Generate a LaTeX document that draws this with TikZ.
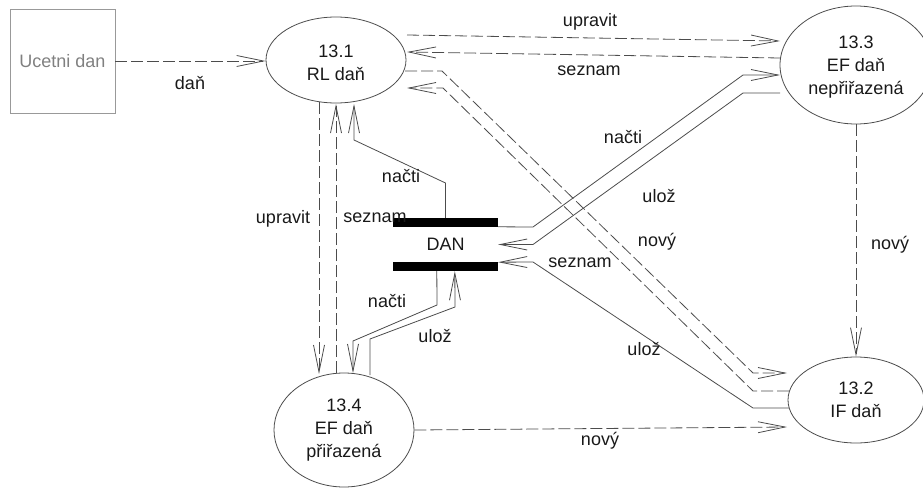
\documentclass[tikz,border=0pt]{standalone}
\usepackage{fontspec}
\setmainfont{Liberation Sans}
\usetikzlibrary{arrows.meta,calc,shapes.geometric}

\begin{document}
\begin{tikzpicture}[x=1pt,y=-1pt,
  every node/.style={font=\fontsize{18}{23}\selectfont, text=black!90},
  proc/.style={draw=black!70, line width=0.8pt, ellipse, inner sep=0pt},
  ptext/.style={align=center, inner sep=0pt},
  flow/.style={draw=black!70, line width=0.8pt, -{Straight Barb[length=27pt,width=11pt]}},
  dflow/.style={flow, dash pattern=on 12pt off 4pt},
  lbl/.style={anchor=base, inner sep=0pt},
]
\useasboundingbox (0,0) rectangle (923,487);

% external entity
\node[draw=black!40, line width=0.8pt, minimum width=105pt, minimum height=104pt,
      inner sep=0pt, text=black!50] (src) at (62.5,61) {Ucetni dan};

% processes (outline) and their captions
\node[proc, minimum width=140pt, minimum height=86pt]  (p131) at (336,60)  {};
\node[proc, minimum width=152pt, minimum height=118pt] (p133) at (856,65)  {};
\node[proc, minimum width=136pt, minimum height=86pt]  (p132) at (856,400) {};
\node[proc, minimum width=140pt, minimum height=114pt] (p134) at (344,430) {};

\node[ptext] (t131) at ($(p131)+(0,3)$) {13.1\\RL daň};
\node[ptext] (t133) at ($(p133)+(0,2)$) {13.3\\EF daň\\nepřiřazená};
\node[ptext] (t132) at ($(p132)+(0,0)$) {13.2\\IF daň};
\node[ptext] (t134) at ($(p134)+(0,0)$) {13.4\\EF daň\\přiřazená};

% data store
\node[minimum width=105pt, minimum height=53pt, inner sep=0pt] (dan) at (445.5,244.5) {DAN};
\fill[black] (dan.north west) rectangle ($(dan.north east)+(0,9)$);
\fill[black] (dan.south west) rectangle ($(dan.south east)+(0,-9)$);

% flows
\draw[dflow] (src.east) -- (src.east -| p131.west);
\draw[dflow] ($(p131)+(71,-25)$) -- ($(p133)+(-76,-24)$);
\draw[dflow] ($(p133)+(-76,-7)$) -- ($(p131)+(71,-8)$);
\draw[dflow] ($(p131)+(69,11)$) -- (442,71) -- (753,373) -- ($(p132)+(-69,-27)$);
\draw[dflow] ($(p132)+(-67,-9)$) -- (753,391) -- (443,88) -- ($(p131)+(71,28)$);

\draw[flow] ($(dan.north east)+(0,9)$) -- (533,227) -- (743,75) -- ($(p133)+(-76,10)$);
\draw[flow] ($(p133)+(-76,28)$) -- (743,93) -- (533,244.5) -- (dan.east);
\draw[flow] ($(p132)+(-67,8)$) -- (753,408) -- (533,262) -- ($(dan.south east)+(0,-9)$);

\draw[dflow] ($(p131)+(-17,42)$) -- ($(p134)+(-25,-56)$);
\draw[dflow] ($(p134)+(-8,-57)$) -- ($(p131)+(0,44)$);

\draw[flow] (dan.north) -- (445.5,183) -- (354,140) -- ($(p131)+(18,44)$);
\draw[flow] ($(dan.south west)+(44,0)$) -- (437,305) -- (353,341) -- ($(p134)+(9,-57)$);
\draw[flow] ($(p134)+(26,-55)$) -- (370,339) -- (455,307) -- ($(dan.south west)+(62,0)$);

\draw[dflow] (p133.south) -- (p132.north);
\draw[dflow] (p134.east) -- ($(p132)+(-69,27)$);

% flow labels
\node[lbl] (l1)  at (190,89)  {daň};
\node[lbl] (l2)  at (590,27)  {upravit};
\node[lbl] (l3)  at (589,75)  {seznam};
\node[lbl] (l4)  at (623,143) {načti};
\node[lbl] (l5)  at (659,202) {ulož};
\node[lbl] (l6)  at (657,246) {nový};
\node[lbl] (l7)  at (580,267) {seznam};
\node[lbl] (l8)  at (644,355) {ulož};
\node[lbl] (l9)  at (890,249) {nový};
\node[lbl] (l10) at (600,445) {nový};
\node[lbl] (l11) at (401,182) {načti};
\node[lbl] (l12) at (375,222) {seznam};
\node[lbl] (l13) at (283,223) {upravit};
\node[lbl] (l14) at (387,307) {načti};
\node[lbl] (l15) at (435,342) {ulož};
\end{tikzpicture}
\end{document}
